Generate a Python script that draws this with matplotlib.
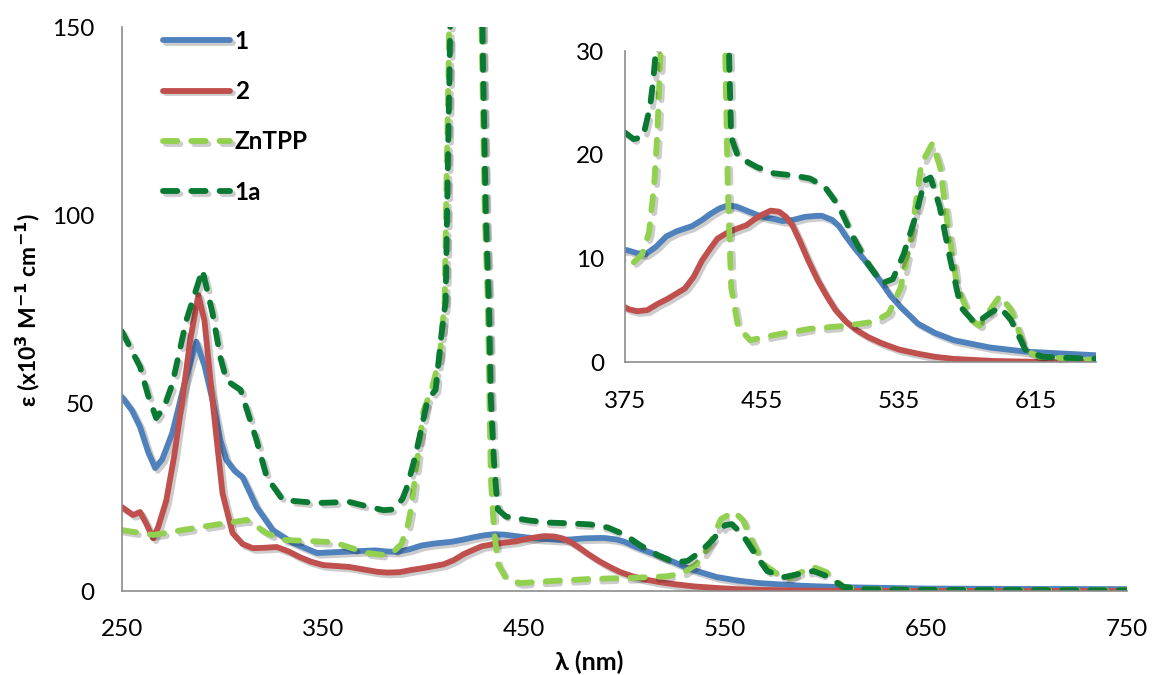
import numpy as np
import matplotlib
matplotlib.use("Agg")
import matplotlib.pyplot as plt
import matplotlib.patheffects as pe

plt.rcParams['font.family'] = ['Lato', 'DejaVu Sans']

# ---------------- data ----------------
wl_1 = [250, 255, 259, 263, 266.5, 270, 275, 281, 287, 291, 295, 299, 302, 306, 310,
        317, 325, 335, 347, 363, 376, 382, 387, 393, 399, 405, 414, 420, 425, 430, 435,
        440, 446, 452, 458, 462, 467, 473, 480, 487, 490, 496, 500, 504, 509, 515, 520,
        525, 530, 536, 541, 546, 556, 567, 588, 609, 650, 700, 750]
eps_1 = [51.6, 48, 43.6, 37, 32.7, 35, 42, 55, 66.3, 60, 50.8, 40, 34.8, 32, 30.3,
         22.3, 16.2, 12.8, 10.1, 10.5, 10.8, 10.5, 10.4, 11.1, 12.1, 12.6, 13.1, 13.7, 14.3, 14.8, 15.1,
         15.0, 14.6, 14.2, 13.9, 13.8, 13.6, 13.7, 14.0, 14.1, 14.1, 13.7, 13.1, 12.1, 11.0, 9.8, 8.7,
         7.6, 6.4, 5.3, 4.5, 3.7, 2.8, 2.1, 1.4, 1.0, 0.65, 0.55, 0.5]

wl_2 = [250, 255.5, 259, 262, 265.5, 268, 272, 276, 280, 284, 288, 291, 295, 300, 305,
        310, 315, 321, 327, 333, 338.5, 344, 350, 363, 377, 382, 388, 394, 400, 405, 410,
        415, 420, 425, 429, 435, 441, 446, 450, 455, 460, 465, 469, 473, 477, 482, 487.5,
        493, 498, 504, 510, 517, 525, 535, 546, 556, 567, 590, 620, 750]
eps_2 = [22.3, 20.2, 21, 18, 14, 17, 24, 36, 50.8, 67, 78.7, 72, 50.8, 26, 15.4,
         12.5, 11.4, 11.5, 11.7, 10.5, 9, 7.8, 6.9, 6.4, 5.1, 4.9, 5.0, 5.6, 6.1, 6.6, 7.1,
         8.2, 9.8, 11.0, 11.9, 12.5, 12.9, 13.2, 13.7, 14.2, 14.6, 14.5, 14.0, 13.1, 11.7, 9.8, 7.9,
         6.3, 5.0, 3.9, 3.1, 2.4, 1.8, 1.2, 0.8, 0.5, 0.3, 0.1, 0, 0]

wl_zntpp = [250, 265.5, 289, 312, 322, 330, 355, 372, 380, 385, 389, 392, 394, 395.5,
            400, 404, 408, 410.5, 411.5, 412.5, 413.5, 416.5, 420.5, 424.5, 428, 429.2,
            430.5, 432, 433.5, 435, 437, 441, 448, 462, 483, 504, 521, 529, 536, 542,
            548, 554.5, 559, 563, 569, 577.5, 582, 588, 594, 600.5, 609, 617, 650, 750]
eps_zntpp = [16.2, 14.9, 17, 18.9, 15.4, 13.6, 13, 10.1, 9.6, 10.4, 12.5, 17, 22.4, 29,
             48, 53.5, 62, 77, 110, 140, 180, 350, 480, 350, 180, 140,
             100, 77, 30, 16.9, 7.2, 3.4, 2.1, 2.6, 3.2, 3.5, 3.9, 4.7, 7.2, 12,
             19.1, 21.1, 18.8, 13.7, 7.2, 4.0, 3.5, 5, 6.4, 5, 1.1, 0.5, 0.2, 0.2]

wl_1a = [250, 259, 263, 267, 271, 275, 282, 290, 295, 299, 302, 309, 317, 322, 330,
         347, 363, 372, 380, 385.5, 389.6, 391.5, 393, 396, 402, 406, 409, 411, 412,
         413, 414, 417, 421, 425, 428.5, 429.6, 431, 432.5, 433.5, 435, 436, 437, 441,
         452, 462, 473, 483, 491.6, 500, 508, 516.8, 525, 531.4, 537.7, 544, 550,
         553.4, 558.7, 565, 571, 579.6, 588, 594, 600.5, 609, 619, 650, 750]
eps_1a = [69, 59.6, 52, 46, 49, 55, 72, 85.4, 74, 62, 56, 53.5, 40, 30.3, 24.2,
          23.4, 23.7, 22.5, 21.5, 21.7, 24.6, 27.2, 30, 36, 50.8, 53.5, 68.6, 77, 110,
          140, 180, 350, 470, 350, 180, 140, 100, 77, 51, 35, 28, 21.7, 19.8,
          18.8, 18.2, 18, 17.7, 16.9, 15, 12.1, 9.5, 7.6, 8, 10.4, 13.7, 17.5,
          17.8, 15, 9.8, 5.3, 3.7, 4.7, 5.3, 4, 1.1, 0.5, 0.3, 0.2]

labels = ['1', '2', 'ZnTPP', '1a']
colors = ['#4F81BD', '#C0504D', '#92D050', '#0A7A32']

main_xticks = [250, 350, 450, 550, 650, 750]
main_yticks = [0, 50, 100, 150]
inset_xticks = [375, 455, 535, 615]
inset_yticks = [0, 10, 20, 30]

series = [(wl_1, eps_1), (wl_2, eps_2), (wl_zntpp, eps_zntpp), (wl_1a, eps_1a)]
styles = ['-', '-', '--', '--']

# ---------------- figure ----------------
fig = plt.figure(figsize=(11.56, 6.75), dpi=100)
ax = fig.add_axes([0.10554, 0.12444, 0.86938, 0.83556])
axin = fig.add_axes([0.54066, 0.46370, 0.40744, 0.46074])
axin.set_facecolor('white')
axin.set_zorder(ax.get_zorder() + 1)

LW = 4.2
shadow = [pe.SimpleLineShadow(offset=(2.0, -2.0), shadow_color='black', alpha=0.2),
          pe.Normal()]


def draw(a):
    handles = []
    for (x, y), c, ls, lab in zip(series, colors, styles, labels):
        kw = dict(color=c, lw=LW, solid_capstyle='round', solid_joinstyle='round',
                  dash_capstyle='round', dash_joinstyle='round', label=lab,
                  path_effects=shadow)
        if ls == '--':
            kw['dashes'] = (2.45, 2.4)
        h, = a.plot(x, y, **kw)
        handles.append(h)
    return handles


def style_axes(a, xlim, ylim, xt, yt, xpad, ypad, fs):
    a.set_xlim(*xlim)
    a.set_ylim(*ylim)
    a.set_xticks(xt)
    a.set_yticks(yt)
    for s in ['top', 'right']:
        a.spines[s].set_visible(False)
    for s in ['left', 'bottom']:
        a.spines[s].set_color('#8C8C8C')
        a.spines[s].set_linewidth(1.2)
    a.tick_params(axis='x', length=0, pad=xpad, labelsize=fs, colors='black')
    a.tick_params(axis='y', length=0, pad=ypad, labelsize=fs, colors='black')


handles = draw(ax)
style_axes(ax, (250, 750), (0, 150), main_xticks, main_yticks, 20, 20, 17.5)

draw(axin)
style_axes(axin, (375, 650), (0, 30), inset_xticks, inset_yticks, 21, 15, 17.5)

leg = fig.legend(handles=handles, labels=labels, loc='upper left',
                 bbox_to_anchor=(163 / 1156, 1 - 30 / 675), frameon=False,
                 handlelength=2.75, handletextpad=0.2, labelspacing=1.12,
                 borderpad=0, borderaxespad=0,
                 prop={'weight': 'bold', 'size': 17.5})

fig.text(589 / 1156, 1 - 662 / 675, 'λ (nm)', ha='center', va='center',
         fontsize=18, fontweight='bold')
fig.text(28 / 1156, 1 - 310 / 675, 'ε (x10$^{\\mathbf{3}}$ M$^{\\mathbf{-1}}$ cm$^{\\mathbf{-1}}$)',
         ha='center', va='center', rotation=90, fontsize=16.5, fontweight='bold')

fig.savefig('out.png', dpi=100)
